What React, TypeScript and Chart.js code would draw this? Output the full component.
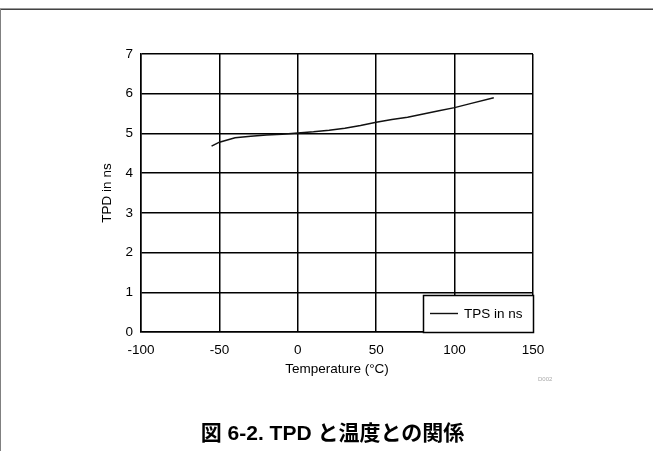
import React, { useEffect, useRef } from "react";
import { Chart, registerables } from "chart.js";

Chart.register(...registerables);

const temperatures = [-55, -50, -40, -30, -20, -10, 0, 10, 20, 30, 40, 50, 60, 70, 80, 90, 100, 110, 125];
const tpdValues = [4.68, 4.78, 4.89, 4.93, 4.96, 4.98, 5.01, 5.04, 5.08, 5.13, 5.2, 5.28, 5.35, 5.41, 5.49, 5.57, 5.65, 5.75, 5.9];
const seriesLabel = "TPS in ns";
const xTitle = "Temperature (°C)";
const yTitle = "TPD in ns";
const caption = "図 6-2. TPD と温度との関係";
const figId = "D002";

const FONT = "'Liberation Sans', Arial, 'DejaVu Sans', sans-serif";

const legendPlugin = {
  id: "insideLegend",
  afterDraw(chart: any) {
    const ca = chart.chartArea;
    const ctx = chart.ctx;
    const w = 110;
    const h = 37;
    const left = ca.right - w;
    const top = ca.bottom - h;
    ctx.save();
    ctx.fillStyle = "#fff";
    ctx.fillRect(left, top, w, h);
    ctx.strokeStyle = "#000";
    ctx.lineWidth = 1.5;
    ctx.strokeRect(Math.round(left) + 0.5, Math.round(top) + 0.5, w, h);
    const ly = top + 18;
    ctx.beginPath();
    ctx.moveTo(left + 7, ly + 0.5);
    ctx.lineTo(left + 35, ly + 0.5);
    ctx.lineWidth = 1.4;
    ctx.strokeStyle = "#111";
    ctx.stroke();
    ctx.fillStyle = "#000";
    ctx.font = `13.5px ${FONT}`;
    ctx.textBaseline = "middle";
    ctx.textAlign = "left";
    ctx.fillText(chart.data.datasets[0].label, left + 41, ly + 1);
    ctx.fillStyle = "#aaa";
    ctx.font = `6px ${FONT}`;
    ctx.fillText(figId, ca.right + 5, ca.bottom + 47);
    ctx.restore();
  },
};

export default function App() {
  const ref = useRef<HTMLCanvasElement | null>(null);
  useEffect(() => {
    if (!ref.current) return;
    const chart = new Chart(ref.current, {
      type: "line",
      data: {
        labels: temperatures,
        datasets: [
          {
            label: seriesLabel,
            data: temperatures.map((t, i) => ({ x: t, y: tpdValues[i] })),
            borderColor: "#111",
            borderWidth: 1.5,
            pointRadius: 0,
            tension: 0,
            fill: false,
          },
        ],
      },
      options: {
        animation: false,
        responsive: false,
        layout: { padding: { left: 0, right: 120, top: 54, bottom: 0 } },
        plugins: { legend: { display: false }, tooltip: { enabled: false } },
        scales: {
          x: {
            type: "linear",
            min: -100,
            max: 150,
            afterFit: (s: any) => {
              s.height = 119;
            },
            ticks: { stepSize: 50, padding: 10, color: "#000", font: { family: FONT, size: 13.5 } },
            grid: { color: "#000", lineWidth: 1.5, drawTicks: false },
            border: { color: "#000", width: 1.5 },
            title: {
              display: true,
              text: xTitle,
              color: "#000",
              font: { family: FONT, size: 13.5 },
              padding: { top: 0, bottom: 74 },
            },
          },
          y: {
            min: 0,
            max: 7,
            afterFit: (s: any) => {
              s.width = 141;
            },
            ticks: { stepSize: 1, padding: 8, color: "#000", font: { family: FONT, size: 13.5 } },
            grid: { color: "#000", lineWidth: 1.5, drawTicks: false },
            border: { color: "#000", width: 1.5 },
            title: {
              display: true,
              text: yTitle,
              color: "#000",
              font: { family: FONT, size: 13.5 },
              padding: { top: 99, bottom: 0 },
            },
          },
        },
      },
      plugins: [legendPlugin],
    });
    return () => chart.destroy();
  }, []);

  return (
    <div style={{ position: "absolute", top: 0, left: 0, width: 653, height: 451, background: "#fff", overflow: "hidden" }}>
      <canvas ref={ref} width={653} height={451} style={{ position: "absolute", top: 0, left: 0, width: 653, height: 451 }} />
      <div style={{ position: "absolute", top: 8, left: 0, width: 653, height: 1, background: "#9a9a9a" }} />
      <div style={{ position: "absolute", top: 9, left: 0, width: 653, height: 1, background: "#444" }} />
      <div style={{ position: "absolute", top: 9, left: 0, width: 1, height: 442, background: "#808080" }} />
      <div
        style={{
          position: "absolute",
          top: 421,
          left: 0,
          width: 665,
          textAlign: "center",
          fontFamily: "'Liberation Sans', 'Noto Sans CJK JP', sans-serif",
          fontWeight: "bold",
          fontSize: 21,
          lineHeight: "24px",
          color: "#000",
        }}
      >
        {caption}
      </div>
    </div>
  );
}
